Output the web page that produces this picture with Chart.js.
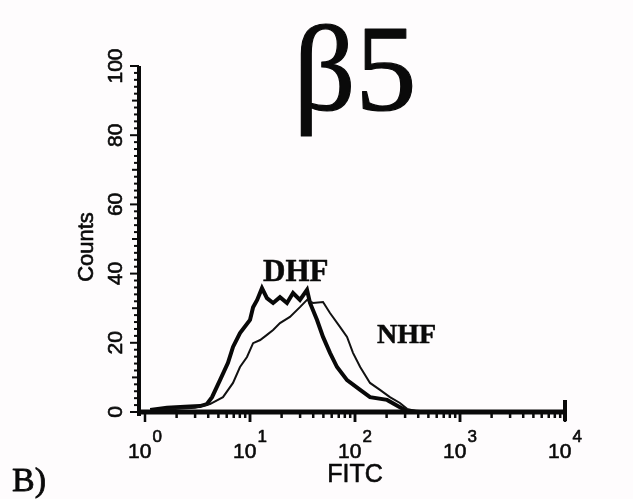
<!DOCTYPE html>
<html>
<head>
<meta charset="utf-8">
<script src="https://cdn.jsdelivr.net/npm/chart.js@4.4.1/dist/chart.umd.min.js"></script>
<style>
	html, body { margin: 0; padding: 0; background: #fefcfd; }
	canvas { display: block; }
</style>
</head>
<body>
<canvas id="graficoHistograma" width="633" height="499"></canvas>
<script>
// valores (FITC em escala log, contagens)
var dhfFitc = [1.12, 1.62, 2.40, 3.34, 3.89, 4.35, 5.18, 6.17, 6.89, 8.03, 10.0, 10.7, 11.7, 13.0, 14.5, 16.6, 19.3, 22.5, 25.7, 29.9, 34.9, 37.3, 43.5, 49.6, 57.8, 67.4, 84.0, 112, 139, 202, 268, 313, 416];
var dhfCounts = [0.6, 1.2, 1.5, 1.7, 2.3, 4.3, 9.2, 14.2, 18.8, 22.8, 26.6, 30.3, 32.4, 35.8, 32.9, 31.5, 33.2, 31.5, 34.4, 32.4, 35.3, 31.5, 26.6, 21.7, 17.1, 13.0, 9.2, 6.4, 4.3, 3.5, 1.4, 0.3, 0];

var nhfFitc = [1.39, 1.93, 2.99, 4.16, 5.53, 6.89, 8.03, 9.36, 10.7, 12.5, 14.5, 16.6, 19.3, 24.0, 29.9, 34.9, 39.8, 49.6, 57.8, 71.9, 84.0, 95.7, 112, 139, 173, 215, 268, 313, 416];
var nhfCounts = [0.6, 0.9, 1.2, 2.3, 4.3, 8.4, 13.0, 15.9, 19.9, 20.8, 22.3, 23.7, 25.7, 27.5, 30.3, 32.4, 31.5, 31.8, 28.6, 24.6, 21.7, 17.1, 13.0, 8.4, 6.4, 4.3, 2.6, 0.9, 0];

var yTicks = [0, 20, 40, 60, 80, 100];
var xExpoentes = [0, 1, 2, 3, 4];

var SERIFA = 'Times, "Times New Roman", "Liberation Serif", serif';
var SANS = 'Arial, Helvetica, "Liberation Sans", sans-serif';

function pontos(xs, ys) {
	return xs.map(function(x, i) { return { x: x, y: ys[i] }; });
}

// texto com contorno leve, para parecer o impresso escaneado
function texto(ctx, s, x, y, contorno) {
	ctx.fillText(s, x, y);
	if (contorno) {
		ctx.lineWidth = contorno;
		ctx.strokeText(s, x, y);
	}
}

var eixosPlugin = {
	id: 'eixos',
	afterDraw: function(chart) {
		var ctx = chart.ctx;
		var sx = chart.scales.x;
		var sy = chart.scales.y;
		var x0 = sx.getPixelForValue(1);
		var x1 = sx.getPixelForValue(10000);
		var y0 = sy.getPixelForValue(0);
		var y1 = sy.getPixelForValue(100);
		var eixoX = x0 - 6;

		ctx.save();
		ctx.strokeStyle = '#0a0a0a';
		ctx.fillStyle = '#0a0a0a';
		ctx.lineCap = 'butt';
		ctx.lineJoin = 'round';

		// eixo y e marcas
		ctx.lineWidth = 4;
		ctx.beginPath();
		ctx.moveTo(eixoX, y1);
		ctx.lineTo(eixoX, y0 + 4);
		ctx.stroke();
		ctx.lineWidth = 2;
		for (var v = 0; v <= 100; v += 2) {
			var py = sy.getPixelForValue(v);
			var len = v % 20 === 0 ? 9 : (v % 10 === 0 ? 7 : 5);
			ctx.beginPath();
			ctx.moveTo(eixoX, py);
			ctx.lineTo(eixoX - len, py);
			ctx.stroke();
		}

		// eixo x e marcas log
		ctx.lineWidth = 5;
		ctx.beginPath();
		ctx.moveTo(eixoX - 2, y0);
		ctx.lineTo(x1 + 2, y0);
		ctx.stroke();
		ctx.lineWidth = 2.5;
		for (var e = 0; e < 4; e++) {
			for (var m = 1; m <= 10; m++) {
				var px = sx.getPixelForValue(m * Math.pow(10, e));
				var comp = (m === 1 || m === 10) ? 10 : 6;
				ctx.beginPath();
				ctx.moveTo(px, y0);
				ctx.lineTo(px, y0 + comp);
				ctx.stroke();
			}
		}
		ctx.lineWidth = 4;
		ctx.beginPath();
		ctx.moveTo(x1, y0 - 12);
		ctx.lineTo(x1, y0 + 9);
		ctx.stroke();

		// rotulos do eixo y
		ctx.font = '21px ' + SANS;
		ctx.textAlign = 'center';
		ctx.textBaseline = 'middle';
		yTicks.forEach(function(t) {
			ctx.save();
			ctx.translate(116, sy.getPixelForValue(t));
			ctx.rotate(-Math.PI / 2);
			texto(ctx, String(t), 0, 0, 0.6);
			ctx.restore();
		});

		// rotulos do eixo x: 10 com expoente
		ctx.textBaseline = 'alphabetic';
		ctx.textAlign = 'left';
		xExpoentes.forEach(function(ex) {
			var px = sx.getPixelForValue(Math.pow(10, ex));
			ctx.font = '21px ' + SANS;
			var wBase = ctx.measureText('10').width;
			ctx.font = '17px ' + SANS;
			var wExp = ctx.measureText(String(ex)).width;
			var ini = px - (wBase + wExp + 1) / 2;
			ctx.font = '21px ' + SANS;
			texto(ctx, '10', ini, 458, 0.6);
			ctx.font = '17px ' + SANS;
			texto(ctx, String(ex), ini + wBase + 1, 442, 0.6);
		});

		// titulos dos eixos
		ctx.textAlign = 'center';
		ctx.font = '25px ' + SANS;
		texto(ctx, 'FITC', 355, 482, 0.6);
		ctx.save();
		ctx.translate(93, 247);
		ctx.rotate(-Math.PI / 2);
		ctx.font = '22px ' + SANS;
		texto(ctx, 'Counts', 0, 0, 0.6);
		ctx.restore();

		// textos da figura
		ctx.font = '122px ' + SERIFA;
		texto(ctx, '\u03B25', 355, 110, 1.2);
		ctx.textAlign = 'left';
		ctx.font = 'bold 31px ' + SERIFA;
		texto(ctx, 'DHF', 263, 281, 0.5);
		ctx.font = 'bold 28px ' + SERIFA;
		texto(ctx, 'NHF', 377, 343, 0.5);
		ctx.font = '34px ' + SERIFA;
		texto(ctx, 'B)', 12, 491, 0.8);

		ctx.restore();
	}
};

var grafico = new Chart(document.getElementById('graficoHistograma').getContext('2d'), {
	type: 'scatter',
	data: {
		datasets: [{
			label: 'NHF',
			data: pontos(nhfFitc, nhfCounts),
			showLine: true,
			borderColor: '#111',
			borderWidth: 2,
			pointRadius: 0,
			tension: 0
		},
		{
			label: 'DHF',
			data: pontos(dhfFitc, dhfCounts),
			showLine: true,
			borderColor: '#080808',
			borderWidth: 4,
			pointRadius: 0,
			tension: 0
		}]
	},
	options: {
		responsive: false,
		animation: false,
		devicePixelRatio: 1,
		layout: { padding: { left: 145, right: 68, top: 66, bottom: 87 } },
		scales: {
			x: { type: 'logarithmic', min: 1, max: 10000, display: false },
			y: { min: 0, max: 100, display: false }
		},
		plugins: {
			legend: { display: false },
			tooltip: { enabled: false }
		}
	},
	plugins: [eixosPlugin]
});
</script>
</body>
</html>
